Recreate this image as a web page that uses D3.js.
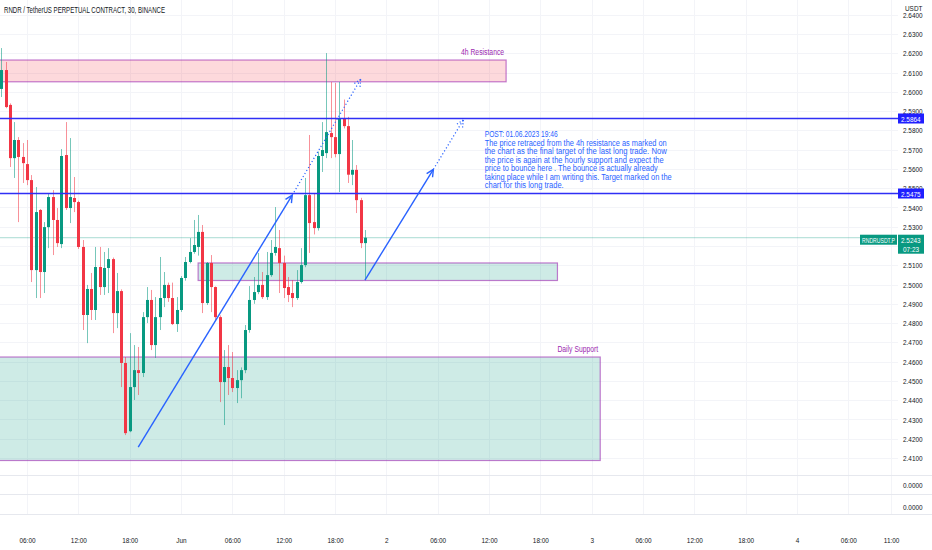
<!DOCTYPE html>
<html><head><meta charset="utf-8">
<script src="https://cdn.jsdelivr.net/npm/d3@7"></script>
<style>
body{margin:0;background:#fff;}
svg{display:block;font-family:"Liberation Sans",Arial,sans-serif;}
</style>
</head><body>
<svg id="chart" width="932" height="550"></svg>
<script>
// ---------------- DATA ----------------
const title = "RNDR / TetherUS PERPETUAL CONTRACT, 30, BINANCE";
const firstCandle = "2023-05-31 03:00";
const candleMinutes = 30;
const opens  = [2.6015,2.6113,2.5932,2.5656,2.5750,2.5662,2.5625,2.5542,2.5075,2.5387,2.5065,2.5298,2.5454,2.5335,2.5210,2.5672,2.5397,2.5449,2.5428,2.5195,2.4842,2.4977,2.4868,2.5091,2.4987,2.5086,2.5132,2.4852,2.4966,2.4593,2.4239,2.4468,2.4556,2.4541,2.4831,2.4920,2.4686,2.4831,2.4930,2.4998,2.4930,2.4795,2.4868,2.5034,2.5117,2.5169,2.5195,2.5273,2.4904,2.5112,2.4987,2.4831,2.4494,2.4572,2.4515,2.4463,2.4504,2.4556,2.4764,2.4920,2.4961,2.4998,2.4935,2.5049,2.5164,2.5189,2.5112,2.4987,2.4956,2.4930,2.5013,2.5101,2.5464,2.5324,2.5293,2.5667,2.5682,2.5786,2.5765,2.5677,2.5859,2.5822,2.5570,2.5595,2.5438,2.5215];
const highs  = [2.6227,2.6155,2.5940,2.5843,2.5765,2.5734,2.5750,2.5568,2.5506,2.5392,2.5324,2.5475,2.5490,2.5397,2.5703,2.5843,2.5760,2.5558,2.5435,2.5231,2.4998,2.5060,2.5195,2.5195,2.5169,2.5189,2.5140,2.5060,2.4975,2.4624,2.4748,2.4686,2.4676,2.4857,2.4987,2.4972,2.4935,2.5143,2.5065,2.5010,2.5010,2.4935,2.5044,2.5143,2.5241,2.5335,2.5361,2.5309,2.5117,2.5153,2.4990,2.4840,2.4660,2.4686,2.4650,2.4556,2.4570,2.4790,2.4992,2.5039,2.5164,2.5065,2.5169,2.5231,2.5402,2.5283,2.5150,2.5039,2.5023,2.5075,2.5189,2.5553,2.5776,2.5475,2.5690,2.5843,2.6201,2.6051,2.6046,2.6051,2.5960,2.5870,2.5750,2.5620,2.5450,2.5283];
const lows   = [2.5973,2.5915,2.5610,2.5553,2.5324,2.5527,2.5516,2.5013,2.4930,2.4930,2.4956,2.5189,2.5153,2.5195,2.5189,2.5387,2.5319,2.5376,2.5185,2.4764,2.4696,2.4816,2.4816,2.4946,2.4946,2.4956,2.4748,2.4774,2.4468,2.4219,2.4234,2.4401,2.4427,2.4520,2.4800,2.4660,2.4619,2.4764,2.4883,2.4910,2.4790,2.4754,2.4858,2.5020,2.5110,2.5160,2.5150,2.4852,2.4894,2.4857,2.4816,2.4390,2.4271,2.4427,2.4442,2.4385,2.4410,2.4540,2.4750,2.4900,2.4950,2.4925,2.4920,2.5040,2.5150,2.4956,2.4930,2.4909,2.4883,2.4920,2.5005,2.5090,2.5164,2.5260,2.5280,2.5584,2.5656,2.5656,2.5660,2.5480,2.5810,2.5527,2.5516,2.5371,2.5189,2.5023];
const closes = [2.6113,2.5921,2.5656,2.5750,2.5662,2.5630,2.5542,2.5075,2.5376,2.5065,2.5298,2.5454,2.5335,2.5215,2.5667,2.5397,2.5454,2.5428,2.5195,2.4842,2.4977,2.4868,2.5091,2.4987,2.5086,2.5132,2.4852,2.4966,2.4593,2.4229,2.4468,2.4556,2.4541,2.4831,2.4920,2.4686,2.4831,2.4930,2.4998,2.4930,2.4795,2.4868,2.5034,2.5117,2.5169,2.5205,2.5273,2.4904,2.5112,2.4987,2.4831,2.4494,2.4572,2.4515,2.4463,2.4504,2.4556,2.4764,2.4920,2.4961,2.4998,2.4935,2.5049,2.5164,2.5195,2.5112,2.4982,2.4946,2.4930,2.5013,2.5101,2.5464,2.5319,2.5293,2.5667,2.5698,2.5791,2.5765,2.5677,2.5859,2.5822,2.5570,2.5595,2.5438,2.5215,2.5243];

const priceTicks = [2.41,2.42,2.43,2.44,2.45,2.46,2.47,2.48,2.49,2.50,2.51,2.52,2.53,2.54,2.55,2.56,2.57,2.58,2.59,2.60,2.61,2.62,2.63,2.64];
const timeTicks = ["2023-05-31 06:00","2023-05-31 12:00","2023-05-31 18:00","2023-06-01 00:00","2023-06-01 06:00","2023-06-01 12:00","2023-06-01 18:00","2023-06-02 00:00","2023-06-02 06:00","2023-06-02 12:00","2023-06-02 18:00","2023-06-03 00:00","2023-06-03 06:00","2023-06-03 12:00","2023-06-03 18:00","2023-06-04 00:00","2023-06-04 06:00","2023-06-04 11:00"];
const timeTickLabels = ["06:00","12:00","18:00","Jun","06:00","12:00","18:00","2","06:00","12:00","18:00","3","06:00","12:00","18:00","4","06:00","11:00"];

const levelPrices = [2.5864, 2.5475];
const lastPrice = 2.5243;
const symbolLabel = "RNDRUSDT.P";
const countdown = "07:23";
const currencyLabel = "USDT";
const indicatorValues = ["0.0000", "0.0000"];

const zoneNames  = ["4h Resistance", "", "Daily Support"];
const zoneStart  = ["2023-05-30 12:00", "2023-06-01 02:00", "2023-05-30 12:00"];
const zoneEnd    = ["2023-06-02 14:00", "2023-06-02 20:00", "2023-06-03 01:00"];
const zoneTop    = [2.6165, 2.5112, 2.4624];
const zoneBottom = [2.6052, 2.5021, 2.4087];
const zoneKind   = ["resistance", "support", "support"];

// arrows: solid segment then dotted projection
const arrowTimes  = [["2023-05-31 19:00","2023-06-01 13:00","2023-06-01 21:00"],
                     ["2023-06-01 21:30","2023-06-02 05:30","2023-06-02 09:00"]];
const arrowPrices = [[2.4157, 2.5464, 2.6065],
                     [2.5023, 2.5598, 2.5854]];

const noteLines = ["POST: 01.06.2023 19:46",
  "The price retraced from the 4h resistance as marked on",
  "the chart as the final target of the last long trade. Now",
  "the price is again at the hourly support and expect the",
  "price to bounce here . The bounce is actually already",
  "taking place while I am writing this. Target marked on the",
  "chart for this long trade."];
const noteTime = "2023-06-02 11:30";
const notePrice = 2.5765;

// ---------------- LAYOUT / STYLE ----------------
const W = 932, H = 550;
const paneRight = 898;
const mainBottom = 475, pane2Line = 494, pane3Line = 514;
const UP = "#089981", DOWN = "#f23645";
const LEVEL = "#2f2ff5", ARROW = "#2962ff", PURPLE = "#9c27b0", TXT = "#131722";
const parse = d3.timeParse("%Y-%m-%d %H:%M");

const svg = d3.select("#chart");
const x = d3.scaleTime()
  .domain([parse("2023-06-01 00:00"), parse("2023-06-04 00:00")])
  .range([181, 797]);
const y = d3.scaleLinear().domain([2.41, 2.63]).range([458, 34]);

const t0 = parse(firstCandle);
const candles = opens.map((o, i) => ({
  t: d3.timeMinute.offset(t0, i * candleMinutes), o, h: highs[i], l: lows[i], c: closes[i]
}));

function squeeze(sel, k) {
  sel.each(function () {
    const len = this.getComputedTextLength();
    d3.select(this).attr("textLength", len * k).attr("lengthAdjust", "spacingAndGlyphs");
  });
}
function fit(sel, w) { sel.attr("textLength", w).attr("lengthAdjust", "spacingAndGlyphs"); }

svg.append("defs").append("clipPath").attr("id", "mainClip")
  .append("rect").attr("x", 0).attr("y", 0).attr("width", paneRight).attr("height", mainBottom);

// gridlines
const grid = svg.append("g");
grid.selectAll("line.h").data(priceTicks).join("line")
  .attr("x1", 0).attr("x2", paneRight)
  .attr("y1", d => Math.round(y(d)) + 0.5).attr("y2", d => Math.round(y(d)) + 0.5)
  .attr("stroke", "#f3f4f8");
grid.selectAll("line.v").data(timeTicks).join("line")
  .attr("x1", d => Math.round(x(parse(d))) + 0.5).attr("x2", d => Math.round(x(parse(d))) + 0.5)
  .attr("y1", 0).attr("y2", pane3Line)
  .attr("stroke", "#f3f4f8");

const main = svg.append("g").attr("clip-path", "url(#mainClip)");

// zones
zoneNames.forEach((name, i) => {
  const x1 = x(parse(zoneStart[i])), x2 = x(parse(zoneEnd[i]));
  const yt = y(zoneTop[i]), yb = y(zoneBottom[i]);
  main.append("rect")
    .attr("x", x1).attr("y", yt).attr("width", x2 - x1).attr("height", yb - yt)
    .attr("fill", zoneKind[i] === "resistance" ? "rgba(242,54,69,0.19)" : "rgba(8,153,129,0.2)")
    .attr("stroke", PURPLE).attr("stroke-opacity", 0.6).attr("stroke-width", 1.2);
});

// last price line
main.append("line")
  .attr("x1", 0).attr("x2", 860)
  .attr("y1", y(lastPrice)).attr("y2", y(lastPrice))
  .attr("stroke", UP).attr("stroke-opacity", 0.35).attr("stroke-width", 1);

// candles
const cg = main.append("g");
cg.selectAll("line").data(candles).join("line")
  .attr("x1", d => Math.round(x(d.t)) + 0.5).attr("x2", d => Math.round(x(d.t)) + 0.5)
  .attr("y1", d => y(d.h)).attr("y2", d => y(d.l))
  .attr("stroke", d => d.c >= d.o ? UP : DOWN).attr("stroke-opacity", 0.55).attr("stroke-width", 1);
cg.selectAll("rect").data(candles).join("rect")
  .attr("x", d => Math.round(x(d.t)) - 1)
  .attr("width", 3)
  .attr("y", d => y(Math.max(d.o, d.c)))
  .attr("height", d => Math.max(1, Math.abs(y(d.o) - y(d.c))))
  .attr("fill", d => d.c >= d.o ? UP : DOWN);

// horizontal levels
main.selectAll("line.level").data(levelPrices).join("line")
  .attr("x1", 0).attr("x2", paneRight)
  .attr("y1", d => Math.round(y(d)) + 0.5).attr("y2", d => Math.round(y(d)) + 0.5)
  .attr("stroke", LEVEL).attr("stroke-width", 1.3);

// arrows
function head(g, xa, ya, xb, yb, dash) {
  const ang = Math.atan2(yb - ya, xb - xa), L = 8, spread = Math.PI / 7;
  [ang + Math.PI - spread, ang + Math.PI + spread].forEach(a => {
    g.append("line").attr("x1", xb).attr("y1", yb)
      .attr("x2", xb + L * Math.cos(a)).attr("y2", yb + L * Math.sin(a))
      .attr("stroke", ARROW).attr("stroke-width", dash ? 1.2 : 1.4)
      .attr("stroke-dasharray", dash ? "1.2,2" : null);
  });
}
const ag = main.append("g");
arrowTimes.forEach((ts, i) => {
  const pts = ts.map((t, j) => [x(parse(t)), y(arrowPrices[i][j])]);
  ag.append("line").attr("x1", pts[0][0]).attr("y1", pts[0][1]).attr("x2", pts[1][0]).attr("y2", pts[1][1])
    .attr("stroke", ARROW).attr("stroke-width", 1.4);
  head(ag, pts[0][0], pts[0][1], pts[1][0], pts[1][1], false);
  ag.append("line").attr("x1", pts[1][0]).attr("y1", pts[1][1]).attr("x2", pts[2][0]).attr("y2", pts[2][1])
    .attr("stroke", ARROW).attr("stroke-width", 1.2).attr("stroke-dasharray", "1.2,2.3");
  head(ag, pts[1][0], pts[1][1], pts[2][0], pts[2][1], true);
});

// zone labels
zoneNames.forEach((name, i) => {
  if (!name) return;
  const t = svg.append("text")
    .attr("x", x(parse(zoneEnd[i])) - 2).attr("y", y(zoneTop[i]) - 5)
    .attr("text-anchor", "end").attr("font-size", 8.5).attr("fill", PURPLE).text(name);
  squeeze(t, 0.8);
});

// note text
const noteWidths = [73, 182, 182, 179, 173, 187, 79];
const note = svg.append("g");
noteLines.forEach((line, i) => {
  const t = note.append("text")
    .attr("x", x(parse(noteTime))).attr("y", y(notePrice) + i * 8.55)
    .attr("font-size", 8.3).attr("fill", ARROW).text(line);
  fit(t, noteWidths[i]);
});

// title
fit(svg.append("text").attr("x", 4).attr("y", 13).attr("font-size", 9).attr("fill", TXT)
  .attr("font-weight", 500).text(title), 161);

// bottom pane separators
svg.selectAll("line.sep").data([mainBottom, pane2Line, pane3Line]).join("line")
  .attr("x1", 0).attr("x2", W).attr("y1", d => d + 0.5).attr("y2", d => d + 0.5)
  .attr("stroke", "#e6e8ee").attr("stroke-width", 1.2);

// price axis (labels fully hidden under the last-price box are not drawn)
const lastBoxTop = y(lastPrice) - 3, lastBoxBottom = y(lastPrice) + 16;
const visibleTicks = priceTicks.filter(v => !(y(v) - 3 > lastBoxTop && y(v) + 3 < lastBoxBottom));
const yAxis = svg.append("g").attr("transform", `translate(${paneRight},0)`)
  .call(d3.axisRight(y).tickValues(visibleTicks).tickFormat(d3.format(".4f")).tickSize(0).tickPadding(5));
yAxis.select(".domain").remove();
yAxis.selectAll("text").attr("font-size", 8).attr("fill", TXT).attr("font-family", "Liberation Sans, Arial, sans-serif");
squeeze(yAxis.selectAll("text"), 0.8);

// header cover + currency label
svg.append("rect").attr("x", paneRight).attr("y", 0).attr("width", W - paneRight).attr("height", 13).attr("fill", "#fff");
squeeze(svg.append("text").attr("x", 905).attr("y", 11).attr("font-size", 8).attr("fill", TXT).text(currencyLabel), 0.8);

// indicator pane values
[ (mainBottom + pane2Line) / 2, (pane2Line + pane3Line) / 2 + 3 ].forEach((cy, i) => {
  squeeze(svg.append("text").attr("x", 903).attr("y", cy + 3).attr("font-size", 8).attr("fill", TXT)
    .text(indicatorValues[i]), 0.8);
});

// level labels on axis
levelPrices.forEach(v => {
  const cy = Math.round(y(v)) + 0.5;
  svg.append("rect").attr("x", paneRight).attr("y", cy - 5).attr("width", 26).attr("height", 10)
    .attr("fill", "#1f1fff");
  squeeze(svg.append("text").attr("x", paneRight + 3).attr("y", cy + 3).attr("font-size", 8)
    .attr("fill", "#fff").text(d3.format(".4f")(v)), 0.8);
});

// last price labels
{
  const cy = y(lastPrice);
  svg.append("rect").attr("x", 860).attr("y", cy - 3).attr("width", 37).attr("height", 10).attr("fill", UP);
  fit(svg.append("text").attr("x", 862).attr("y", cy + 5).attr("font-size", 7.8).attr("fill", "#fff").text(symbolLabel), 33);
  svg.append("rect").attr("x", paneRight).attr("y", cy - 3).attr("width", 26).attr("height", 19).attr("fill", UP);
  squeeze(svg.append("text").attr("x", paneRight + 3).attr("y", cy + 5).attr("font-size", 8).attr("fill", "#fff")
    .text(d3.format(".4f")(lastPrice)), 0.8);
  squeeze(svg.append("text").attr("x", paneRight + 5).attr("y", cy + 14).attr("font-size", 8).attr("fill", "#fff")
    .text(countdown), 0.8);
}

// time axis
const xAxis = svg.append("g").attr("transform", `translate(0,${535})`)
  .call(d3.axisBottom(x).tickValues(timeTicks.map(parse)).tickFormat((d, i) => timeTickLabels[i]).tickSize(0).tickPadding(2));
xAxis.select(".domain").remove();
xAxis.selectAll("text").attr("font-size", 8).attr("fill", TXT).attr("font-family", "Liberation Sans, Arial, sans-serif");
squeeze(xAxis.selectAll("text"), 0.8);
</script>
</body></html>
